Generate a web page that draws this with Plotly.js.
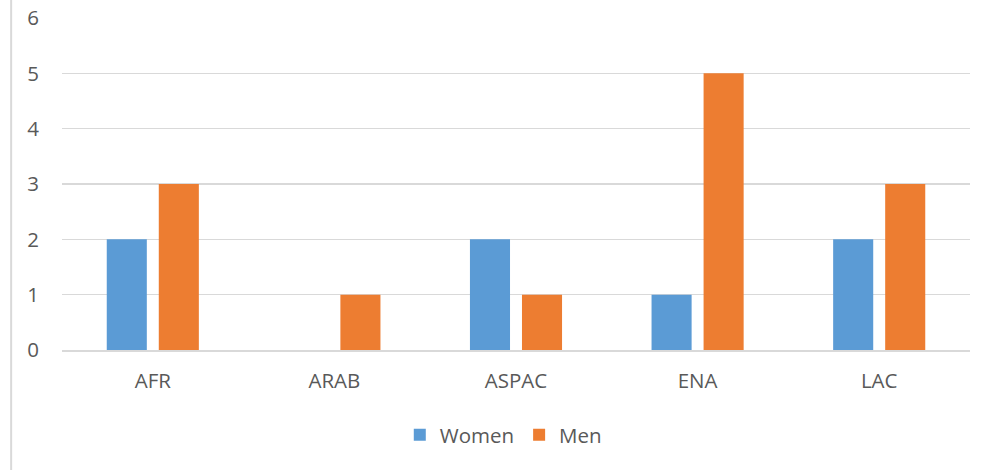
<!DOCTYPE html>
<html>
<head>
<meta charset="utf-8">
<script src="https://cdn.plot.ly/plotly-3.0.1.min.js"></script>
<style>
html,body{margin:0;padding:0;background:#fff;}
#chart{width:984px;height:470px;}
</style>
</head>
<body>
<div id="chart"></div>
<script>
const categories = ["AFR", "ARAB", "ASPAC", "ENA", "LAC"];
const women = [2, 0, 2, 1, 2];
const men = [3, 1, 1, 5, 3];
const yTicks = [0, 1, 2, 3, 4, 5, 6];

const font = {family: "Open Sans, sans-serif", size: 20.5, color: "#595959"};

const data = [
  {type: "bar", name: "Women", x: categories, y: women, marker: {color: "#5b9bd5"}},
  {type: "bar", name: "Men", x: categories, y: men, marker: {color: "#ed7d31"}}
];

const layout = {
  width: 984, height: 470,
  margin: {l: 62, r: 14, t: 18, b: 120},
  paper_bgcolor: "#fff", plot_bgcolor: "#fff",
  font: font,
  barmode: "group",
  bargap: 0.427,
  bargroupgap: 0.23,
  xaxis: {
    showgrid: false, showline: true, linecolor: "#d9d9d9", linewidth: 2,
    ticks: "", ticklabelstandoff: 11, tickfont: font
  },
  yaxis: {
    range: [0, 6], tickvals: yTicks, showgrid: true, gridcolor: "#d9d9d9", gridwidth: 1.5,
    zeroline: false, showline: false, ticks: "", ticklabelstandoff: 22, tickfont: font
  },
  legend: {
    orientation: "h", x: 0.486, xanchor: "center", y: -0.256, yanchor: "middle",
    font: font, itemwidth: 30, traceorder: "normal"
  },
  showlegend: true,
  shapes: [{
    type: "line", xref: "paper", yref: "paper",
    x0: -0.056, x1: -0.056, y0: -0.37, y1: 1.06,
    line: {color: "#d9d9d9", width: 2}
  }]
};

Plotly.newPlot("chart", data, layout, {displayModeBar: false, staticPlot: true});
</script>
</body>
</html>
